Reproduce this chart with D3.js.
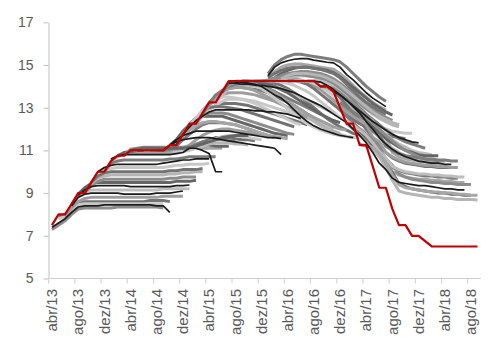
<!DOCTYPE html>
<html>
<head>
<meta charset="utf-8">
<script src="https://cdn.jsdelivr.net/npm/d3@7"></script>
<style>
  body { margin: 0; background: #fff; }
  text { font-family: "Liberation Sans", Arial, sans-serif; fill: #595959; }
</style>
</head>
<body>
<svg id="chart"></svg>
<script>
// categories: one per month
const months = [
  "abr/13","mai/13","jun/13","jul/13","ago/13","set/13","out/13","nov/13","dez/13",
  "jan/14","fev/14","mar/14","abr/14","mai/14","jun/14","jul/14","ago/14","set/14","out/14","nov/14","dez/14",
  "jan/15","fev/15","mar/15","abr/15","mai/15","jun/15","jul/15","ago/15","set/15","out/15","nov/15","dez/15",
  "jan/16","fev/16","mar/16","abr/16","mai/16","jun/16","jul/16","ago/16","set/16","out/16","nov/16","dez/16",
  "jan/17","fev/17","mar/17","abr/17","mai/17","jun/17","jul/17","ago/17","set/17","out/17","nov/17","dez/17",
  "jan/18","fev/18","mar/18","abr/18","mai/18","jun/18","jul/18","ago/18","set/18"
];

// realised rate (red line)
const selic = [
  7.5, 8, 8, 8.5, 9, 9, 9.5, 10, 10, 10.5, 10.75, 10.75,
  11, 11, 11, 11, 11, 11, 11.25, 11.25,
  11.75, 12.25, 12.25, 12.75, 13.25, 13.25, 13.75,
  14.25, 14.25, 14.25, 14.25, 14.25, 14.25, 14.25, 14.25, 14.25, 14.25, 14.25, 14.25, 14.25, 14.25,
  14, 14, 13.75, 13, 12.25, 12.25, 11.25, 11.25, 10.25, 9.25, 9.25, 8.25, 7.5, 7.5, 7, 7, 6.75,
  6.5, 6.5, 6.5, 6.5, 6.5, 6.5, 6.5, 6.5
];

// expected paths: [first month, monthly values]
const forecasts = [
  ["abr/13", [7.3,7.5,7.7,8.0,8.25,8.3,8.3,8.3,8.3,8.3,8.35,8.35,8.35,8.35,8.35,8.35,8.35,8.3]],
  ["abr/13", [7.4,7.6,7.8,8.1,8.35,8.4,8.4,8.4,8.45,8.45,8.45,8.45,8.45,8.45,8.45,8.45,8.4,8.4,8.1]],
  ["mai/13", [7.9,8.0,8.3,8.55,8.6,8.6,8.6,8.6,8.6,8.6,8.6,8.6,8.6,8.6,8.65,8.65,8.65,8.6]],
  ["mai/13", [7.8,7.9,8.2,8.45,8.5,8.5,8.5,8.5,8.5,8.5,8.5,8.5,8.5,8.5,8.5,8.5,8.5]],
  ["jun/13", [7.9,8.3,8.6,8.75,8.8,8.8,8.8,8.8,8.8,8.8,8.8,8.8,8.8,8.8,8.8,8.85,8.85,8.85,8.85]],
  ["jul/13", [8.4,8.8,8.95,9.0,9.0,9.0,9.0,9.0,8.95,8.95,8.95,8.95,8.95,9.0,9.0,9.0,9.05,9.1]],
  ["jul/13", [8.45,8.9,9.1,9.15,9.15,9.15,9.15,9.15,9.15,9.15,9.15,9.15,9.15,9.15,9.2,9.2,9.2,9.2,9.2]],
  ["ago/13", [8.9,9.15,9.3,9.35,9.35,9.35,9.35,9.35,9.3,9.3,9.3,9.3,9.3,9.3,9.3,9.35,9.35,9.38]],
  ["ago/13", [8.95,9.25,9.45,9.5,9.5,9.5,9.5,9.5,9.5,9.5,9.5,9.5,9.5,9.5,9.5,9.55,9.55,9.55,9.6]],
  ["set/13", [9.0,9.35,9.55,9.65,9.65,9.65,9.65,9.65,9.65,9.65,9.65,9.65,9.65,9.7,9.7,9.75,9.75,9.75]],
  ["out/13", [9.45,9.7,9.8,9.85,9.85,9.85,9.85,9.85,9.85,9.85,9.85,9.85,9.9,9.9,9.95,9.95,10.0,10.0]],
  ["out/13", [9.5,9.8,9.95,10.0,10.0,10.0,10.0,10.0,10.0,10.0,10.0,10.0,10.05,10.05,10.1,10.1,10.1,10.15]],
  ["nov/13", [9.95,10.1,10.15,10.2,10.2,10.2,10.2,10.2,10.2,10.2,10.2,10.25,10.3,10.3,10.35,10.35,10.35,10.4]],
  ["nov/13", [10.0,10.2,10.3,10.35,10.35,10.35,10.35,10.35,10.35,10.35,10.4,10.45,10.5,10.55,10.55,10.6,10.6,10.6]],
  ["dez/13", [10.0,10.4,10.5,10.55,10.55,10.55,10.55,10.55,10.55,10.55,10.6,10.6,10.65,10.7,10.7,10.7,10.7,10.7]],
  ["jan/14", [10.6,10.75,10.8,10.8,10.8,10.8,10.8,10.8,10.8,10.8,10.85,10.9,11.1,11.1,11.0,10.85,10.0,10.0]],
  ["jan/14", [10.5,10.7,10.85,10.9,10.9,10.9,10.9,10.9,10.9,10.9,10.95,11.0,11.05,11.1,11.1,11.1,11.1,11.1]],
  ["fev/14", [10.75,10.9,10.95,11.0,11.0,11.0,11.0,11.0,11.0,11.0,11.05,11.1,11.2,11.25,11.25,11.2,11.2,11.2]],
  ["mar/14", [10.75,11.05,11.1,11.15,11.15,11.15,11.15,11.15,11.15,11.15,11.2,11.3,11.4,11.45,11.5,11.5,11.45,11.45]],
  ["abr/14", [11.0,11.0,11.0,11.0,11.0,11.0,11.0,11.0,11.0,11.05,11.1,11.2,11.3,11.35,11.35,11.35,11.3,11.3,11.25]],
  ["mai/14", [11.0,11.0,11.05,11.05,11.05,11.05,11.05,11.1,11.15,11.25,11.4,11.5,11.6,11.6,11.6,11.55,11.5,11.5,11.45]],
  ["jun/14", [11.0,11.0,11.0,11.0,11.0,10.95,10.95,11.0,11.1,11.25,11.4,11.55,11.65,11.7,11.7,11.65,11.6,11.55,11.5]],
  ["jul/14", [11.0,11.0,11.0,11.0,11.05,11.1,11.25,11.5,11.7,11.85,11.95,12.0,12.0,11.95,11.9,11.85,11.8,11.75,11.7]],
  ["ago/14", [11.0,11.0,11.05,11.2,11.5,11.75,12.0,12.2,12.3,12.3,12.3,12.25,12.2,12.1,12.0,11.9,11.8,11.7,11.6]],
  ["set/14", [11.0,11.25,11.5,11.7,11.8,11.9,11.9,11.9,11.9,11.9,11.9,11.85,11.8,11.75,11.7,11.65,11.6,11.6,11.55]],
  ["set/14", [11.0,11.25,11.4,11.5,11.55,11.6,11.6,11.6,11.55,11.5,11.45,11.4,11.35,11.3,11.25,11.2,11.15,11.1,10.8]],
  ["out/14", [11.25,11.5,11.9,12.2,12.5,12.6,12.6,12.6,12.6,12.5,12.4,12.3,12.2,12.1,12.0,11.9,11.8,11.75,11.7]],
  ["nov/14", [11.25,11.75,12.1,12.4,12.6,12.75,12.75,12.75,12.7,12.6,12.5,12.4,12.3,12.2,12.1,12.0,11.9,11.8,11.75]],
  ["dez/14", [11.75,12.1,12.4,12.6,12.8,12.9,12.9,12.9,12.9,12.9,12.9,12.85,12.85,12.8,12.8,12.75,12.7,12.6,12.5]],
  ["jan/15", [12.25,12.5,12.75,12.95,13.1,13.2,13.2,13.2,13.15,13.1,13.0,12.9,12.8,12.7,12.6,12.5,12.4,12.3,12.2]],
  ["fev/15", [12.25,12.6,12.9,13.1,13.3,13.4,13.4,13.4,13.35,13.3,13.2,13.1,13.0,12.9,12.8,12.7,12.6,12.5,12.4]],
  ["mar/15", [12.75,13.1,13.4,13.6,13.7,13.7,13.7,13.65,13.6,13.5,13.4,13.3,13.15,13.0,12.85,12.7,12.55,12.4,12.3]],
  ["abr/15", [13.25,13.5,13.8,13.9,13.95,13.95,13.9,13.85,13.8,13.7,13.55,13.4,13.25,13.1,12.9,12.7,12.5,12.3,12.2]],
  ["mai/15", [13.25,13.6,13.9,14.0,14.05,14.05,14.0,13.95,13.85,13.7,13.5,13.3,13.1,12.9,12.7,12.5,12.3,12.1,12.0]],
  ["jun/15", [13.75,14.0,14.1,14.1,14.1,14.05,14.0,13.9,13.75,13.55,13.3,13.05,12.8,12.6,12.4,12.2,12.0,11.9,11.8]],
  ["jul/15", [14.15,14.15,14.1,14.1,14.05,14.05,14.0,13.95,13.9,13.8,13.7,13.55,13.4,13.25,13.1,12.9,12.7,12.5,12.3]],
  ["ago/15", [14.2,14.2,14.15,14.1,14.0,13.8,13.6,13.45,13.2,12.9,12.6,12.35,12.15,12.0,11.9,11.8,11.7,11.65,11.6]],
  ["ago/15", [14.25,14.25,14.25,14.2,14.1,13.95,13.75,13.55,13.3,13.05,12.8,12.55,12.35,12.15,12.0,11.85,11.75,11.65,11.6]],
  ["set/15", [14.25,14.25,14.25,14.25,14.2,14.15,14.05,13.9,13.7,13.5,13.25,13.0,12.75,12.5,12.3,12.1,11.95,11.8,11.7]],
  ["out/15", [14.25,14.25,14.25,14.25,14.25,14.2,14.15,14.05,13.9,13.75,13.55,13.3,13.05,12.8,12.55,12.35,12.15,12.0,11.9]],
  ["nov/15", [14.25,14.25,14.25,14.3,14.35,14.35,14.35,14.3,14.2,14.05,13.85,13.6,13.35,13.1,12.85,12.6,12.4,12.25,12.1]],
  ["jan/16", [14.6,15.0,15.25,15.4,15.5,15.5,15.45,15.4,15.35,15.3,15.25,15.15,14.9,14.6,14.3,14.0,13.75,13.5,13.3]],
  ["jan/16", [14.5,14.9,15.1,15.2,15.27,15.3,15.3,15.23,15.18,15.13,15.1,14.9,14.55,14.3,14.0,13.7,13.45,13.25,13.05]],
  ["jan/16", [14.45,14.7,14.9,15.0,15.05,15.05,15.0,14.95,14.9,14.85,14.8,14.6,14.35,14.05,13.75,13.5,13.25,13.05,12.9]],
  ["fev/16", [14.4,14.6,14.75,14.85,14.9,14.9,14.85,14.8,14.75,14.65,14.45,14.2,13.95,13.7,13.45,13.2,13.0,12.8,12.65]],
  ["fev/16", [14.3,14.5,14.6,14.65,14.7,14.7,14.65,14.6,14.5,14.35,14.15,13.9,13.65,13.4,13.15,12.9,12.7,12.55,12.4]],
  ["mar/16", [14.3,14.4,14.45,14.5,14.5,14.45,14.4,14.3,14.15,13.95,13.7,13.45,13.2,12.95,12.7,12.5,12.35,12.2,12.1]],
  ["abr/16", [14.25,14.25,14.2,14.1,13.9,13.65,13.4,13.15,12.9,12.65,12.45,12.25,12.1,11.95,11.85,11.75,11.65,11.6,11.55]],
  ["mai/16", [14.25,14.25,14.25,14.15,14.0,13.8,13.55,13.3,13.05,12.8,12.6,12.4,12.25,12.1,12.0,11.9,11.85,11.8,11.8]],
  ["jun/16", [14.25,14.25,14.25,14.2,14.05,13.85,13.6,13.35,13.1,12.85,12.6,12.35,12.15,11.95,11.75,11.6,11.5,11.4,11.35]],
  ["jul/16", [14.25,14.25,14.25,14.2,14.1,13.9,13.6,13.3,13.0,12.7,12.45,12.2,11.95,11.75,11.55,11.4,11.3,11.2,11.1]],
  ["ago/16", [14.25,14.25,14.2,14.0,13.75,13.5,13.2,12.9,12.6,12.3,12.0,11.75,11.5,11.3,11.15,11.0,10.9,10.85,10.8]],
  ["set/16", [14.0,13.95,13.75,13.5,13.25,13.0,12.8,12.6,12.4,11.8,11.65,10.9,10.7,10.6,10.55,10.5,10.5,10.45,10.45]],
  ["set/16", [14.0,14.0,13.8,13.5,13.25,13.0,12.7,12.4,12.1,11.8,11.55,11.35,11.15,11.0,10.9,10.8,10.75,10.75,10.75]],
  ["out/16", [14.0,13.9,13.7,13.45,13.2,12.9,12.6,12.3,12.0,11.7,11.45,11.2,11.0,10.85,10.7,10.6,10.55,10.5,10.5]],
  ["out/16", [14.0,13.75,13.5,13.2,12.9,12.6,12.25,11.9,11.6,11.35,11.1,10.9,10.75,10.6,10.5,10.45,10.4,10.35,10.3]],
  ["nov/16", [13.75,13.5,13.1,12.75,12.4,12.0,11.6,11.25,10.9,10.65,10.5,10.4,10.35,10.3,10.25,10.25,10.2,10.2,10.2]],
  ["nov/16", [13.75,13.6,13.35,13.05,12.75,12.35,12.0,11.6,11.3,11.05,10.85,10.7,10.6,10.5,10.45,10.4,10.4,10.35,10.35]],
  ["dez/16", [13.0,12.8,12.6,12.4,12.2,11.6,11.4,10.9,10.7,10.55,10.45,10.4,10.35,10.3,10.3,10.25,10.25,10.2,10.2]],
  ["dez/16", [12.9,12.6,12.3,12.0,11.75,11.2,11.0,10.4,10.2,10.05,9.95,9.9,9.85,9.8,9.8,9.75,9.75,9.7,9.7]],
  ["jan/17", [12.3,12.0,11.7,11.35,10.9,10.4,10.1,9.7,9.5,9.45,9.4,9.35,9.35,9.3,9.25,9.2,9.2,9.15,9.15]],
  ["jan/17", [12.25,12.0,11.75,11.5,11.1,10.7,10.4,10.0,9.85,9.75,9.7,9.65,9.65,9.6,9.6,9.55,9.55,9.5,9.5]],
  ["fev/17", [12.25,11.9,11.6,11.25,10.75,10.3,9.95,9.45,9.3,9.2,9.15,9.1,9.05,9.0,9.0,8.95,8.95,8.9,8.9]],
  ["fev/17", [12.25,12.0,11.75,11.5,11.1,10.6,10.3,9.9,9.75,9.65,9.6,9.55,9.5,9.5,9.45,9.45,9.4,9.4,9.4]],
  ["mar/17", [11.3,11.2,11.1,10.7,10.2,9.6,9.1,9.0,8.95,8.9,8.85,8.8,8.8,8.75,8.75,8.7,8.7,8.7,8.68]],
  ["nov/14", [11.25,11.7,12.15,12.5,12.85,13.0,13.05,13.05,13.0,12.95,12.9,12.8,12.7,12.6,12.5,12.4,12.3,12.2,12.1]],
  ["dez/14", [11.75,12.2,12.5,12.9,13.2,13.4,13.5,13.5,13.45,13.4,13.3,13.2,13.05,12.9,12.75,12.6,12.45,12.3,12.2]],
  ["jan/15", [12.2,12.2,12.7,13.1,13.5,13.75,13.9,13.95,13.95,13.9,13.8,13.65,13.5,13.35,13.2,13.0,12.85,12.7,12.55]],
  ["mar/15", [12.7,13.2,13.6,13.8,14.0,14.1,14.15,14.15,14.1,14.0,13.9,13.75,13.6,13.45,13.3,13.15,13.0,12.85,12.7]],
  ["mai/15", [13.2,13.7,14.1,14.2,14.2,14.2,14.2,14.15,14.1,14.0,13.9,13.8,13.65,13.5,13.35,13.2,13.05,12.9,12.75]],
  ["out/14", [11.2,11.4,11.7,11.95,12.15,12.3,12.35,12.35,12.3,12.25,12.2,12.1,12.0,11.9,11.8,11.7,11.65,11.6,11.55]],
  ["jun/15", [13.7,14.15,14.2,14.2,14.2,14.2,14.15,14.1,14.0,13.85,13.7,13.5,13.3,13.1,12.9,12.7,12.55,12.4,12.3]],
  ["dez/15", [14.25,14.3,14.4,14.45,14.5,14.55,14.55,14.5,14.45,14.4,14.3,14.15,13.95,13.7,13.45,13.2,12.95,12.75,12.6]],
  ["mar/16", [14.35,14.5,14.6,14.6,14.6,14.55,14.5,14.4,14.25,14.05,13.8,13.55,13.3,13.05,12.8,12.6,12.45,12.3,12.2]],
  ["jan/16", [14.4,14.6,14.75,14.85,14.9,14.9,14.9,14.85,14.8,14.7,14.6,14.4,14.1,13.8,13.5,13.25,13.05,12.85,12.7]],
  ["set/15", [14.2,14.15,14.05,13.9,13.7,13.45,13.2,12.95,12.7,12.45,12.25,12.1,11.95,11.85,11.75,11.7,11.65,11.6,11.6]],
  ["jul/15", [14.2,14.2,14.2,14.15,14.1,14.0,13.85,13.7,13.5,13.3,13.1,12.9,12.7,12.55,12.4,12.25,12.1,12.0,11.95]],
  ["dez/16", [13.25,13.0,12.8,12.6,12.4,11.9,11.7,11.2,11.0,10.85,10.75,10.7,10.65,10.6,10.6,10.55,10.55,10.5,10.5]],
  ["jan/17", [12.4,12.2,11.95,11.7,11.35,10.95,10.65,10.25,10.1,10.0,9.95,9.9,9.9,9.85,9.85,9.8,9.8,9.75,9.75]],
  ["mar/17", [11.3,11.2,11.15,10.85,10.4,9.85,9.4,9.25,9.2,9.15,9.1,9.05,9.05,9.0,9.0,8.95,8.95,8.9,8.9]],
  ["abr/14", [11.0,11.05,11.1,11.1,11.1,11.1,11.1,11.1,11.1,11.15,11.2,11.3,11.4,11.5,11.6,11.65,11.7,11.7,11.7]]
];

const yTicks = [5, 7, 9, 11, 13, 15, 17];
const labelMonths = months.filter((m, i) => i % 4 === 0);

// styling
const blackLines = [1, 5, 7, 13, 15, 24, 25, 28, 35, 36, 42, 49, 57, 60];
const grays = ["#8c8c8c", "#b5b5b5", "#737373", "#c8c8c8", "#9e9e9e", "#7d7d7d", "#bdbdbd", "#a6a6a6", "#666666"];

const width = 491, height = 349;

const svg = d3.select("#chart")
    .attr("width", width)
    .attr("height", height)
    .style("display", "block");

const x = d3.scaleBand().domain(months).range([48.7, 480.8]);
const y = d3.scaleLinear().domain([5, 17]).range([278.5, 22.3]);
const cx = m => x(m) + x.bandwidth() / 2;

// y axis
const yAxis = svg.append("g")
    .attr("transform", "translate(48.5,0)")
    .call(d3.axisLeft(y).tickValues(yTicks).tickSize(5).tickSizeOuter(0).tickPadding(10));
yAxis.select(".domain").attr("stroke", "#bfbfbf");
yAxis.selectAll(".tick line").attr("stroke", "#bfbfbf");
yAxis.selectAll(".tick text")
    .attr("font-size", 14)
    .attr("font-family", "Liberation Sans, Arial, sans-serif")
    .attr("fill", "#595959");

// x axis (ticks between categories, labels centred)
svg.append("line")
    .attr("x1", 48.5).attr("x2", 480.8)
    .attr("y1", 278.5).attr("y2", 278.5)
    .attr("stroke", "#d0d0d0");

svg.selectAll(".xtick")
    .data(labelMonths)
    .join("line")
    .attr("class", "xtick")
    .attr("x1", d => x(d)).attr("x2", d => x(d))
    .attr("y1", 278.5).attr("y2", 283.5)
    .attr("stroke", "#d0d0d0");

svg.selectAll(".xlabel")
    .data(labelMonths)
    .join("text")
    .attr("class", "xlabel")
    .attr("transform", d => `translate(${cx(d)},289) rotate(-90)`)
    .attr("text-anchor", "end")
    .attr("dy", "0.35em")
    .attr("font-size", 15)
    .text(d => d);

const line = d3.line()
    .x(d => cx(d.m))
    .y(d => y(d.v));

const paths = forecasts.map(([start, vals], i) => {
    const s = months.indexOf(start);
    return {
        i,
        black: blackLines.includes(i),
        pts: vals.map((v, j) => ({ m: months[s + j], v })).filter(p => p.m)
    };
});

// gray paths first, black ones on top
svg.append("g")
    .selectAll("path")
    .data(paths.filter(p => !p.black))
    .join("path")
    .attr("d", d => line(d.pts))
    .attr("fill", "none")
    .attr("stroke", d => grays[d.i % grays.length])
    .attr("stroke-width", 3)
    .attr("stroke-linejoin", "round");

svg.append("g")
    .selectAll("path")
    .data(paths.filter(p => p.black))
    .join("path")
    .attr("d", d => line(d.pts))
    .attr("fill", "none")
    .attr("stroke", "#1a1a1a")
    .attr("stroke-width", 1.7)
    .attr("stroke-linejoin", "round");

// realised rate
svg.append("path")
    .datum(months.map((m, i) => ({ m, v: selic[i] })))
    .attr("d", line)
    .attr("fill", "none")
    .attr("stroke", "#c00000")
    .attr("stroke-width", 2.2)
    .attr("stroke-linejoin", "round");
</script>
</body>
</html>
